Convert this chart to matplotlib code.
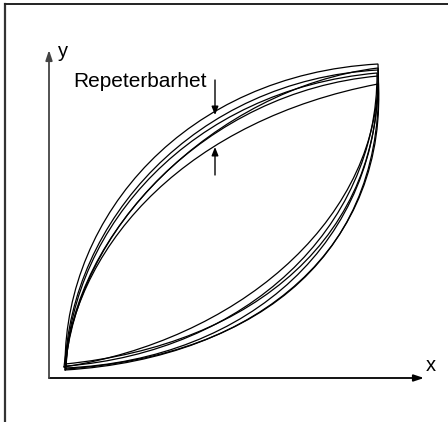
import matplotlib.pyplot as plt
from matplotlib.path import Path
from matplotlib.patches import PathPatch
from matplotlib.lines import Line2D

plt.rcParams['font.family'] = ['Liberation Sans', 'DejaVu Sans']

# hysteresis loops: start / end point plus bezier handles of the
# rising (upper) and falling (lower) branch, axis units
loop_start = [(16, 14), (16, 10), (17, 12), (16, 8), (15, 11), (17, 9)]
loop_end = [(329, 314), (329, 308), (328, 305), (329, 302), (329, 294), (329, 310)]
upper_ctrl = [
    [(17, 163), (136, 303)],
    [(21, 156), (146, 298)],
    [(23, 150), (141, 288)],
    [(27, 146), (156, 286)],
    [(29, 138), (141, 258)],
    [(21, 143), (166, 290)],
]
lower_ctrl = [
    [(206, 33), (336, 143)],
    [(201, 18), (333, 138)],
    [(196, 26), (329, 150)],
    [(211, 20), (341, 133)],
    [(186, 38), (323, 153)],
    [(216, 23), (339, 128)],
]

x_max, y_max = 375, 328
label_text = 'Repeterbarhet'
label_pos = (24, 291)
arrow_x = 166
arrow_top = (298, 263)     # from, to
arrow_bottom = (203, 231)  # from, to

fig = plt.figure(figsize=(4.48, 4.22), dpi=100)
ax = fig.add_axes([49 / 448, 44 / 422, 375 / 448, 328 / 422])
ax.set_xlim(0, x_max)
ax.set_ylim(0, y_max)
ax.axis('off')

# border line at top and left
fig.add_artist(Line2D([5 / 448, 5 / 448], [0, 1 - 4 / 422], color='#333333', lw=1.6))
fig.add_artist(Line2D([5 / 448, 1], [1 - 4 / 422, 1 - 4 / 422], color='#222222', lw=1.4))

for s, e, u, l in zip(loop_start, loop_end, upper_ctrl, lower_ctrl):
    verts = [s, u[0], u[1], e, l[1], l[0], s]
    codes = [Path.MOVETO, Path.CURVE4, Path.CURVE4, Path.CURVE4,
             Path.CURVE4, Path.CURVE4, Path.CURVE4]
    ax.add_patch(PathPatch(Path(verts, codes), fill=False, lw=0.9,
                           edgecolor='black', capstyle='round'))

# coordinate axes with arrow heads
axis_arrow = dict(arrowstyle='-|>,head_length=0.6,head_width=0.2',
                  lw=1.3, shrinkA=0, shrinkB=0)
ax.annotate('', xy=(x_max, 0), xytext=(0, 0), annotation_clip=False,
            arrowprops=dict(axis_arrow, color='black'))
ax.annotate('', xy=(0, y_max), xytext=(0, 0), annotation_clip=False,
            arrowprops=dict(axis_arrow, color='#444444'))
ax.text(x_max + 2, 7, 'x', fontsize=14.5, va='baseline', ha='left')
ax.text(9, 321, 'y', fontsize=14.5, va='baseline', ha='left')

# repeatability marker
ax.text(label_pos[0], label_pos[1], label_text, fontsize=15, va='baseline', ha='left')
small_arrow = dict(arrowstyle='-|>,head_length=0.5,head_width=0.2',
                   lw=1.0, color='black', shrinkA=0, shrinkB=0)
ax.annotate('', xy=(arrow_x, arrow_top[1]), xytext=(arrow_x, arrow_top[0]),
            arrowprops=small_arrow)
ax.annotate('', xy=(arrow_x, arrow_bottom[1]), xytext=(arrow_x, arrow_bottom[0]),
            arrowprops=small_arrow)

fig.savefig('out.png', dpi=100)
